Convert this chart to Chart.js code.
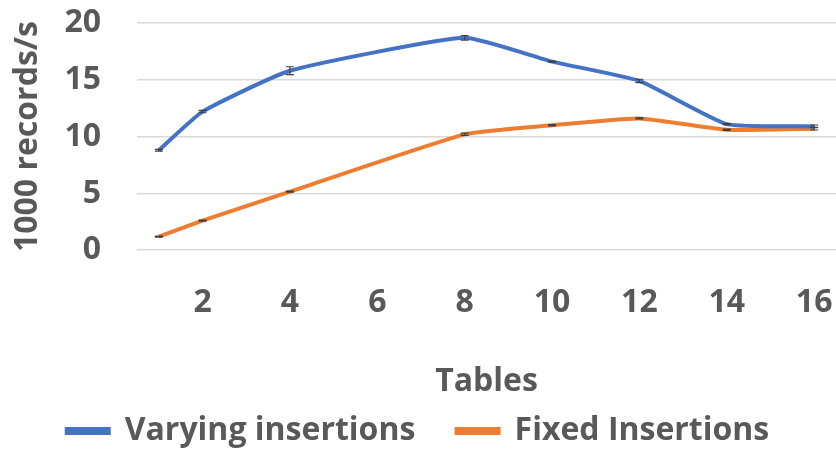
<!DOCTYPE html>
<html lang="en">
<head>
    <meta charset="UTF-8">
    <title>Records per second</title>
    <style>
        body { margin: 0; background: #fff; }
        #chart { display: block; }
    </style>
    <script src="https://cdn.jsdelivr.net/npm/chart.js"></script>
</head>
<body>
    <canvas id="chart" width="836" height="450"></canvas>

    <script>
        const tables = [1, 2, 4, 8, 10, 12, 14, 16];
        const varying = [8.8, 12.2, 15.8, 18.7, 16.6, 14.9, 11.1, 10.9];
        const varyingErr = [0.08, 0.1, 0.35, 0.2, 0.05, 0.15, 0.05, 0.12];
        const fixed = [1.2, 2.6, 5.15, 10.2, 11.0, 11.6, 10.6, 10.7];
        const fixedErr = [0.05, 0.05, 0.05, 0.1, 0.05, 0.05, 0.05, 0.12];
        const xTicks = [2, 4, 6, 8, 10, 12, 14, 16];
        const yTicks = [0, 5, 10, 15, 20];

        const font = "'Open Sans', sans-serif";
        const grey = '#595959';
        const textFont = { family: font, size: 32, weight: 'bold' };

        function points(ys) {
            return tables.map((t, i) => ({ x: t, y: ys[i] }));
        }

        // draws the little error bars over each line
        const errorBars = {
            id: 'errorBars',
            afterDatasetsDraw(chart) {
                const ctx = chart.ctx;
                const xs = chart.scales.x;
                const ys = chart.scales.y;
                ctx.save();
                ctx.strokeStyle = '#404040';
                ctx.lineWidth = 1.2;
                chart.data.datasets.forEach(ds => {
                    ds.data.forEach((p, i) => {
                        const e = ds.errors[i];
                        const x = xs.getPixelForValue(p.x);
                        const top = ys.getPixelForValue(p.y + e);
                        const bot = ys.getPixelForValue(p.y - e);
                        ctx.beginPath();
                        ctx.moveTo(x, top);
                        ctx.lineTo(x, bot);
                        ctx.moveTo(x - 4, top);
                        ctx.lineTo(x + 4, top);
                        ctx.moveTo(x - 4, bot);
                        ctx.lineTo(x + 4, bot);
                        ctx.stroke();
                    });
                });
                ctx.restore();
            }
        };

        new Chart(document.getElementById('chart'), {
            type: 'line',
            data: {
                datasets: [
                    {
                        label: 'Varying insertions',
                        data: points(varying),
                        errors: varyingErr,
                        borderColor: '#4472C4',
                        backgroundColor: '#4472C4',
                        borderWidth: 4,
                        pointRadius: 0,
                        tension: 0.15
                    },
                    {
                        label: 'Fixed Insertions',
                        data: points(fixed),
                        errors: fixedErr,
                        borderColor: '#ED7D31',
                        backgroundColor: '#ED7D31',
                        borderWidth: 4,
                        pointRadius: 0,
                        tension: 0.15
                    }
                ]
            },
            options: {
                responsive: false,
                animation: false,
                layout: { padding: { top: 23, right: 0, bottom: -7, left: 0 } },
                plugins: {
                    tooltip: { enabled: false },
                    legend: {
                        position: 'bottom',
                        labels: {
                            boxWidth: 42,
                            boxHeight: 4,
                            padding: 8,
                            color: grey,
                            font: textFont,
                            // keep the wide gap between the two entries
                            generateLabels: chart => {
                                const items = Chart.defaults.plugins.legend.labels.generateLabels(chart);
                                items[0].text = items[0].text + '    ';
                                return items;
                            }
                        }
                    }
                },
                scales: {
                    x: {
                        type: 'linear',
                        min: 0.5,
                        max: 16.5,
                        afterBuildTicks: axis => {
                            axis.ticks = xTicks.map(v => ({ value: v }));
                        },
                        afterFit: axis => {
                            axis.paddingLeft = 0;
                            axis.paddingRight = 0;
                        },
                        grid: { display: false, drawTicks: false },
                        border: { display: false },
                        ticks: {
                            padding: 33,
                            maxRotation: 0,
                            color: grey,
                            font: textFont
                        },
                        title: {
                            display: true,
                            text: 'Tables',
                            color: grey,
                            padding: { top: 8, bottom: 6 },
                            font: textFont
                        }
                    },
                    y: {
                        min: 0,
                        max: 20,
                        afterBuildTicks: axis => {
                            axis.ticks = yTicks.map(v => ({ value: v }));
                        },
                        afterFit: axis => {
                            axis.width = 137;
                            axis.paddingTop = 0;
                            axis.paddingBottom = 0;
                        },
                        grid: { color: '#d9d9d9', lineWidth: 1.5, drawTicks: false },
                        border: { display: false },
                        ticks: {
                            autoSkip: false,
                            padding: 36,
                            color: grey,
                            font: textFont
                        },
                        title: {
                            display: true,
                            text: '1000 records/s',
                            color: grey,
                            padding: { top: 9, bottom: 0 },
                            font: textFont
                        }
                    }
                }
            },
            plugins: [errorBars]
        });
    </script>
</body>
</html>
